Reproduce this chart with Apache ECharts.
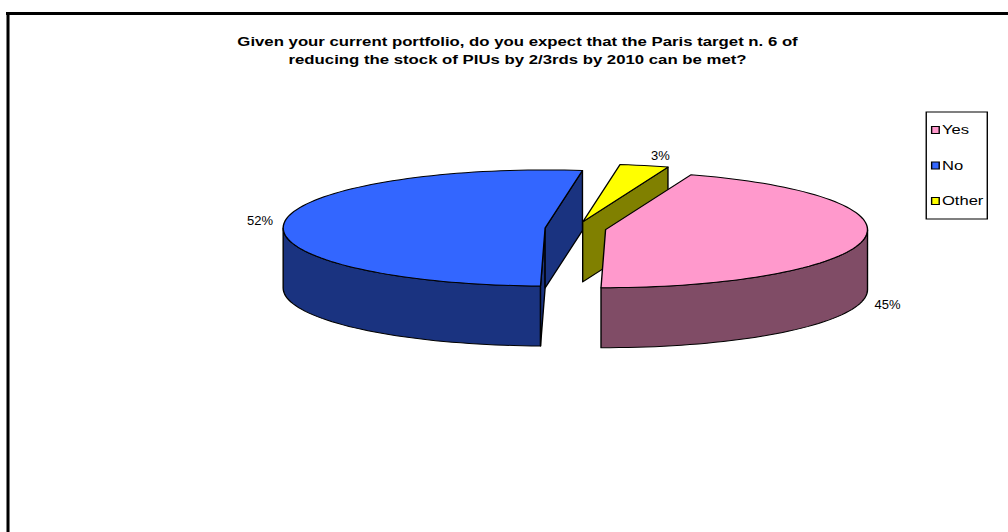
<!DOCTYPE html>
<html>
<head>
<meta charset="utf-8">
<script src="https://cdn.jsdelivr.net/npm/echarts@6/dist/echarts.min.js"></script>
<style>
  html, body { margin: 0; padding: 0; background: #ffffff; overflow: hidden; }
  #wrap { width: 1008px; height: 532px; overflow: hidden; }
  /* the chart is laid out narrow and stretched sideways, like a resized spreadsheet chart */
  #chart { width: 730px; height: 532px; transform: scaleX(1.3808); transform-origin: 0 0; }
</style>
</head>
<body>
<div id="wrap"><div id="chart"></div></div>
<script>
// ---- data ----
const categories = ['Yes', 'No', 'Other'];
const shares = [45, 52, 3];
const titleLines = [
  'Given your current portfolio, do you expect that the Paris target n. 6 of',
  'reducing the stock of PIUs by 2/3rds by 2010 can be met?'
];

// ---- styling ----
const topColors = ['#FF99CC', '#3366FF', '#FFFF00'];
const sideColors = ['#804C66', '#1A3380', '#808000'];
const FONT = '"Liberation Sans", Arial, Helvetica, sans-serif';
const STRETCH = 1008 / 730;

// tilted, exploded 3-D pie (inner layout pixels)
const PIE = { cx: 416.8, cy: 228.5, rx: 189.7, ry: 58, depth: 60, explode: 22.1, firstAngle: 71 };
const total = shares.reduce((a, b) => a + b, 0);
const RAD = Math.PI / 180;

function rimPoint(c, deg, dy) {
  return [c[0] + PIE.rx * Math.cos(deg * RAD), c[1] - PIE.ry * Math.sin(deg * RAD) + (dy || 0)];
}
function rimArc(c, from, to, dy) {
  const n = Math.max(2, Math.ceil(Math.abs(to - from) / 2));
  const pts = [];
  for (let i = 0; i <= n; i++) pts.push(rimPoint(c, from + (to - from) * i / n, dy));
  return pts;
}

function renderSlice(idx, api) {
  const value = api.value(0);
  let before = 0;
  for (let j = 0; j < idx; j++) before += shares[j];
  // slices run clockwise from the first-slice angle
  const a1 = PIE.firstAngle - before / total * 360;
  const a2 = a1 - value / total * 360;
  const mid = (a1 + a2) / 2;
  const c = [
    PIE.cx + PIE.explode * Math.cos(mid * RAD),
    PIE.cy - PIE.explode * (PIE.ry / PIE.rx) * Math.sin(mid * RAD)
  ];
  const edge = { stroke: '#000000', lineWidth: 1, lineJoin: 'round' };
  const children = [];

  // outer wall: only the part turned towards the viewer
  for (let n = -2; n <= 1; n++) {
    const lo = Math.max(a2, 180 + 360 * n);
    const hi = Math.min(a1, 360 + 360 * n);
    if (hi - lo > 0.01) {
      const pts = rimArc(c, lo, hi, 0).concat(rimArc(c, hi, lo, PIE.depth));
      children.push({ type: 'polygon', z2: 10, shape: { points: pts },
        style: Object.assign({ fill: sideColors[idx] }, edge) });
    }
  }
  // radial cut faces that face the viewer
  const cuts = [];
  if (Math.cos(a1 * RAD) < -1e-6) cuts.push(a1);
  if (Math.cos(a2 * RAD) > 1e-6) cuts.push(a2);
  cuts.forEach(a => {
    const r = rimPoint(c, a, 0);
    children.push({ type: 'polygon', z2: 20, shape: {
        points: [c, r, [r[0], r[1] + PIE.depth], [c[0], c[1] + PIE.depth]] },
      style: Object.assign({ fill: sideColors[idx] }, edge) });
  });
  // top face
  children.push({ type: 'polygon', z2: 100, shape: { points: [c].concat(rimArc(c, a1, a2, 0)) },
    style: Object.assign({ fill: topColors[idx] }, edge) });

  // percentage label outside the rim
  const cosM = Math.cos(mid * RAD), sinM = Math.sin(mid * RAD);
  const anchor = rimPoint(c, mid, sinM < 0 ? PIE.depth : 0);
  const gap = 8;
  let lx, ly, align, vAlign;
  if (sinM > 0.5) {
    align = 'left'; vAlign = 'bottom';
    lx = anchor[0] + gap * 0.6; ly = anchor[1] - 4;
  } else {
    align = cosM >= 0 ? 'left' : 'right'; vAlign = 'middle';
    lx = anchor[0] + (cosM >= 0 ? gap : -gap); ly = anchor[1] - sinM * 30;
  }
  children.push({ type: 'text', z2: 200, x: lx, y: ly, scaleX: 1 / STRETCH,
    style: { text: value + '%', x: 0, y: 0, align: align, verticalAlign: vAlign,
      fontSize: 13, fontFamily: FONT, fill: '#000000' } });

  return { type: 'group', children: children };
}

const series = categories.map((name, i) => ({
  type: 'custom',
  name: name,
  coordinateSystem: 'none',
  data: [[shares[i]]],
  itemStyle: { color: topColors[i] },
  silent: true,
  renderItem: (params, api) => renderSlice(i, api)
}));

const chart = echarts.init(document.getElementById('chart'), null, { renderer: 'svg' });
chart.setOption({
  animation: false,
  backgroundColor: '#ffffff',
  title: {
    text: titleLines.join('\n'),
    left: 374.8,
    top: 32.5,
    padding: 0,
    textAlign: 'center',
    textStyle: { fontSize: 12.15, fontWeight: 'bold', fontFamily: FONT, color: '#000000', lineHeight: 18 }
  },
  legend: {
    data: categories,
    orient: 'vertical',
    left: 670.8,
    top: 112,
    icon: 'rect',
    itemWidth: 5.5,
    itemHeight: 7,
    itemGap: 23.5,
    padding: [12, 2.8, 12, 3.4],
    borderColor: '#000000',
    borderWidth: 1,
    borderRadius: 0,
    selectedMode: false,
    itemStyle: { borderColor: '#000000', borderWidth: 1 },
    textStyle: { fontSize: 12, fontFamily: FONT, color: '#000000', padding: [0, 0, 0, -3] }
  },
  graphic: [
    { type: 'line', shape: { x1: 4.35, y1: 13.5, x2: 730, y2: 13.5 }, style: { stroke: '#000000', lineWidth: 3 } },
    { type: 'line', shape: { x1: 5.8, y1: 12, x2: 5.8, y2: 532 }, style: { stroke: '#000000', lineWidth: 2.2 } }
  ],
  series: series
});
</script>
</body>
</html>
